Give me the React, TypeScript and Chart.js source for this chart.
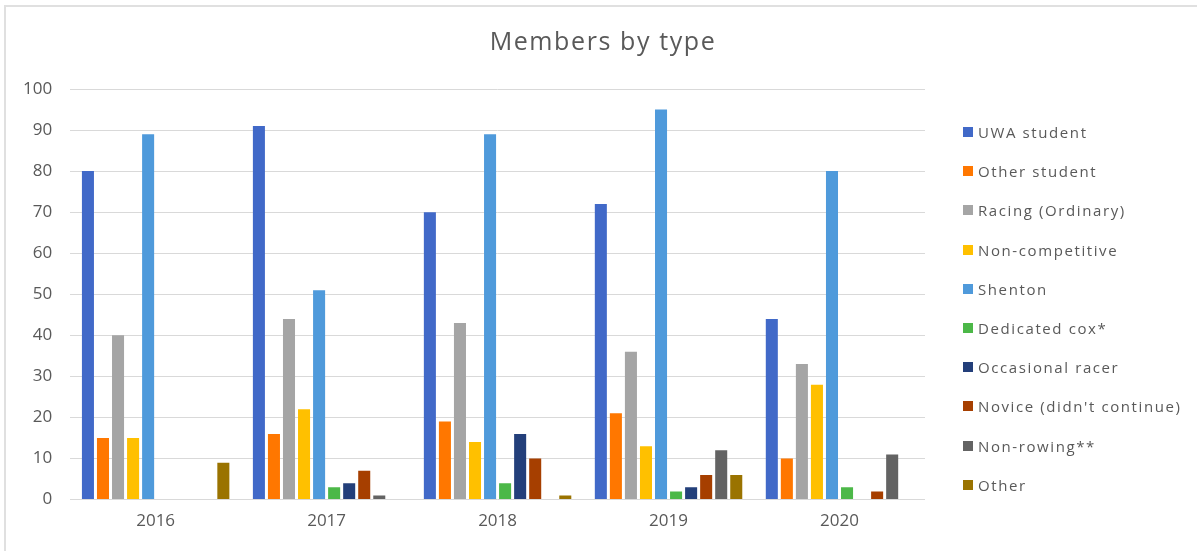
import React, { useEffect, useRef } from "react";
import { Chart, registerables } from "chart.js";

Chart.register(...registerables);

const years = ["2016", "2017", "2018", "2019", "2020"];
const seriesNames = [
  "UWA student",
  "Other student",
  "Racing (Ordinary)",
  "Non-competitive",
  "Shenton",
  "Dedicated cox*",
  "Occasional racer",
  "Novice (didn't continue)",
  "Non-rowing**",
  "Other",
];
const seriesColors = [
  "#4169C8",
  "#FF7700",
  "#A5A5A5",
  "#FFC000",
  "#4F9ADB",
  "#4CB848",
  "#233F7A",
  "#A63F00",
  "#636363",
  "#9A7300",
];
const uwaStudent = [80, 91, 70, 72, 44];
const otherStudent = [15, 16, 19, 21, 10];
const racingOrdinary = [40, 44, 43, 36, 33];
const nonCompetitive = [15, 22, 14, 13, 28];
const shenton = [89, 51, 89, 95, 80];
const dedicatedCox = [0, 3, 4, 2, 3];
const occasionalRacer = [0, 4, 16, 3, 0];
const novice = [0, 7, 10, 6, 2];
const nonRowing = [0, 1, 0, 12, 11];
const other = [9, 0, 1, 6, 0];
const seriesValues = [
  uwaStudent,
  otherStudent,
  racingOrdinary,
  nonCompetitive,
  shenton,
  dedicatedCox,
  occasionalRacer,
  novice,
  nonRowing,
  other,
];
const yTicks = [0, 10, 20, 30, 40, 50, 60, 70, 80, 90, 100];
const chartTitle = "Members by type";

const FONT = "'Open Sans', 'DejaVu Sans', sans-serif";
const TEXT = "#595959";

export default function App() {
  const canvasRef = useRef<HTMLCanvasElement | null>(null);

  useEffect(() => {
    if (!canvasRef.current) return;
    const chart = new Chart(canvasRef.current, {
      type: "bar",
      data: {
        labels: years,
        datasets: seriesNames.map((name, i) => ({
          label: name,
          data: seriesValues[i],
          backgroundColor: seriesColors[i],
          borderWidth: 0,
          categoryPercentage: 0.88,
          barPercentage: 0.8,
        })),
      },
      options: {
        responsive: true,
        maintainAspectRatio: false,
        animation: false,
        layout: { padding: { left: 5, right: 272, top: 89, bottom: 9 } },
        plugins: {
          legend: { display: false },
          tooltip: { enabled: false },
          title: { display: false },
        },
        scales: {
          x: {
            grid: { display: false, drawTicks: false },
            border: { display: false },
            ticks: {
              color: TEXT,
              font: { family: FONT, size: 17 },
              padding: 11,
            },
          },
          y: {
            min: 0,
            max: 100,
            afterBuildTicks: (axis: any) => {
              axis.ticks = yTicks.map((v) => ({ value: v }));
            },
            grid: { color: "#d9d9d9", lineWidth: 1, drawTicks: false },
            border: { display: false },
            ticks: {
              color: TEXT,
              font: { family: FONT, size: 17 },
              padding: 18,
            },
          },
        },
      },
    });
    return () => chart.destroy();
  }, []);

  return (
    <div
      style={{
        position: "fixed",
        left: 0,
        top: 0,
        width: 1197,
        height: 551,
        background: "#fff",
        overflow: "hidden",
      }}
    >
      <div
        style={{
          position: "absolute",
          left: 4,
          top: 5,
          width: 1200,
          height: 560,
          borderTop: "2px solid #e0e0e0",
          borderLeft: "2px solid #e0e0e0",
          boxSizing: "border-box",
        }}
      />
      <div style={{ position: "absolute", left: 0, top: 0, width: 1197, height: 551 }}>
        <canvas ref={canvasRef} />
      </div>
      <div
        style={{
          position: "absolute",
          left: 403,
          width: 400,
          top: 22,
          textAlign: "center",
          fontFamily: FONT,
          fontSize: 25,
          letterSpacing: 1.6,
          color: TEXT,
          lineHeight: "36px",
          whiteSpace: "nowrap",
        }}
      >
        {chartTitle}
      </div>
      {seriesNames.map((name, i) => (
        <div
          key={name}
          style={{
            position: "absolute",
            left: 963,
            top: 132 + i * 39.2 - 10,
            height: 20,
            display: "flex",
            alignItems: "center",
            fontFamily: FONT,
            fontSize: 15,
            letterSpacing: 1.6,
            color: TEXT,
            whiteSpace: "nowrap",
          }}
        >
          <span
            style={{
              display: "inline-block",
              width: 10,
              height: 10,
              background: seriesColors[i],
              marginRight: 5,
            }}
          />
          {name}
        </div>
      ))}
    </div>
  );
}
